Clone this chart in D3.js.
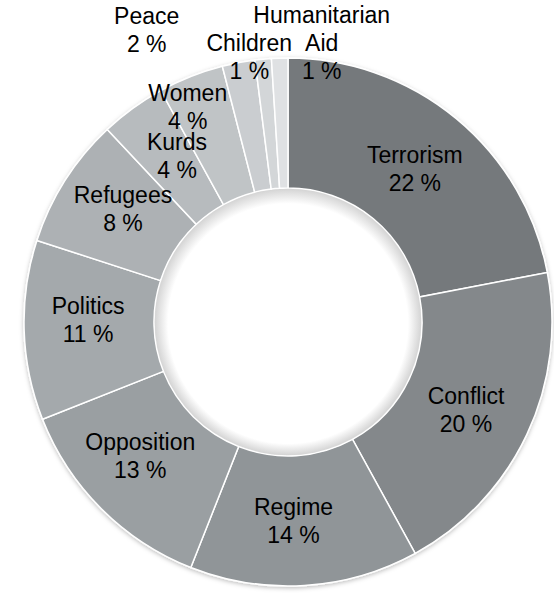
<!DOCTYPE html>
<html>
<head>
<meta charset="utf-8">
<script src="https://cdn.jsdelivr.net/npm/d3@7"></script>
<style>
  html, body { margin: 0; padding: 0; background: #ffffff; }
  svg { display: block; }
</style>
</head>
<body>
<div id="chart"></div>
<script>
const categories = ["Terrorism", "Conflict", "Regime", "Opposition", "Politics", "Refugees", "Kurds", "Women", "Peace", "Children", "Humanitarian Aid"];
const values = [22, 20, 14, 13, 11, 8, 4, 4, 2, 1, 1];
const colors = ["#75797c", "#84888b", "#909598", "#9a9fa2", "#a4a9ac", "#adb1b4", "#b7bbbe", "#c0c4c6", "#cacdd0", "#d3d6d8", "#dfe1e3"];
// label text lines (category name may wrap)
const labelLines = [["Terrorism"], ["Conflict"], ["Regime"], ["Opposition"], ["Politics"], ["Refugees"], ["Kurds"], ["Women"], ["Peace"], ["Children"], ["Humanitarian", "Aid"]];
// label nudges (pixels) applied to the arc centroid, for labels moved by the original layout
const labelDx = [0, -2, -7, -7, -1, 3, 6, -27, -104, -20, 40];
const labelDy = [0, 3, 0, -7, -8, -6, -5, -30, -97, -67, -80];

const W = 554, H = 593;
const cx = 288, cy = 322, rOuter = 264, rInner = 134;

const svg = d3.select("#chart").append("svg").attr("width", W).attr("height", H);
const defs = svg.append("defs");
const f = defs.append("filter").attr("id", "shadow").attr("x", "-10%").attr("y", "-10%").attr("width", "120%").attr("height", "120%");
f.append("feDropShadow").attr("dx", 0).attr("dy", 1.5).attr("stdDeviation", 2).attr("flood-color", "#000").attr("flood-opacity", 0.25);

const hole = defs.append("radialGradient").attr("id", "hole").attr("cx", "0.5").attr("cy", "0.5").attr("fx", "0.5").attr("fy", "0.56").attr("r", "0.5");
hole.append("stop").attr("offset", "0.9").attr("stop-color", "#ffffff");
hole.append("stop").attr("offset", "1").attr("stop-color", "#d4d4d4");

const data = categories.map((c, i) => ({ name: c, value: values[i], i }));
const pie = d3.pie().value(d => d.value).sort(null);
const arc = d3.arc().innerRadius(rInner).outerRadius(rOuter);
const arcs = pie(data);

const g = svg.append("g").attr("transform", `translate(${cx},${cy})`);
g.append("g").attr("filter", "url(#shadow)")
  .selectAll("path").data(arcs).join("path")
  .attr("d", arc)
  .attr("fill", d => colors[d.data.i])
  .attr("stroke", "#ffffff")
  .attr("stroke-width", 1.5);

g.append("circle").attr("r", rInner - 0.75).attr("fill", "url(#hole)");

const lineH = 28;
const fontSize = 23;
const labels = g.append("g")
  .attr("font-family", "'Liberation Sans', Arial, sans-serif")
  .attr("font-size", fontSize)
  .attr("fill", "#000")
  .attr("text-anchor", "middle");

arcs.forEach(d => {
  const i = d.data.i;
  const [x, y] = arc.centroid(d);
  const lines = labelLines[i].concat([values[i] + " %"]);
  const n = lines.length;
  const x0 = x + labelDx[i];
  const y0 = y + labelDy[i] - (n - 1) * lineH / 2;
  const t = labels.append("text");
  lines.forEach((s, k) => {
    t.append("tspan").attr("x", x0).attr("y", y0 + k * lineH).attr("dy", "0.35em").text(s);
  });
});
</script>
</body>
</html>
